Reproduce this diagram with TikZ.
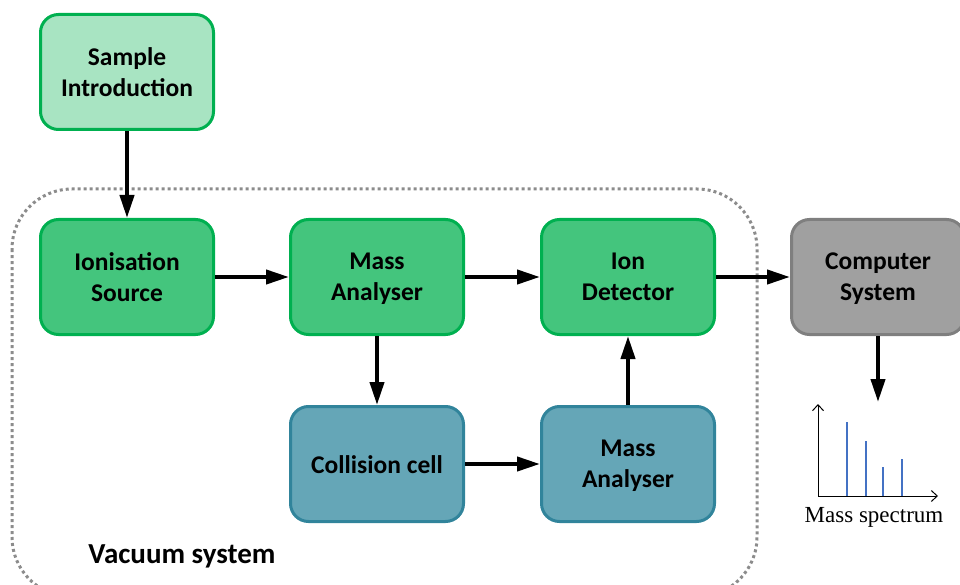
\documentclass[tikz,border=0pt]{standalone}
\usepackage{fontspec}
\setmainfont{Carlito}
\newfontfamily\serifspec{Liberation Serif}
\usetikzlibrary{arrows.meta}
\definecolor{gborder}{HTML}{00B050}
\definecolor{gfill}{HTML}{44C57D}
\definecolor{lgfill}{HTML}{A8E4C2}
\definecolor{tfill}{HTML}{65A6B7}
\definecolor{tborder}{HTML}{31849B}
\definecolor{cfill}{HTML}{A0A0A0}
\definecolor{cborder}{HTML}{7F7F7F}
\definecolor{specblue}{HTML}{4472C4}
\tikzset{
  box/.style={draw, line width=3pt, rounded corners=18pt, minimum width=173pt, minimum height=115pt,
    align=center, font=\fontsize{25.5}{31}\selectfont\bfseries, inner sep=0pt, text depth=-1pt},
  oneline/.style={text height=26pt, text depth=7pt},
  greenbox/.style={box, draw=gborder, fill=gfill},
  lightbox/.style={box, draw=gborder, fill=lgfill},
  tealbox/.style={box, draw=tborder, fill=tfill},
  greybox/.style={box, draw=cborder, fill=cfill},
  arr/.style={line width=4pt, -{Triangle[length=23pt,width=14pt]}},
  vac/.style={draw=cborder!90, line width=3pt, dash pattern=on 3pt off 3pt, rounded corners=60pt}
}
\begin{document}
\begin{tikzpicture}[x=1pt,y=-1pt]
\useasboundingbox (0,0) rectangle (960,585);
\draw[vac] (12,189) rectangle (757,597);
\node[lightbox] (sample) at (127,72) {Sample\\Introduction};
\node[greenbox] (ion) at (127,277) {Ionisation\\Source};
\node[greenbox] (ma1) at (377,277) {Mass\\Analyser};
\node[greenbox] (det) at (628,277) {Ion\\Detector};
\node[greybox] (comp) at (878,277) {Computer\\System};
\node[tealbox, oneline] (coll) at (377,464) {Collision cell};
\node[tealbox] (ma2) at (628,464) {Mass\\Analyser};
\node[font=\fontsize{29}{32}\selectfont\bfseries] (vlabel) at (182,556) {Vacuum system};
\draw[arr] (sample) -- (ion);
\draw[arr] (ion) -- (ma1);
\draw[arr] (ma1) -- (det);
\draw[arr] (det) -- (comp);
\draw[arr] (ma1) -- (coll);
\draw[arr] (coll) -- (ma2);
\draw[arr] (ma2) -- (det);
\coordinate (specin) at (878,402);
\draw[arr] (comp) -- (specin);
% spectrum
\coordinate (orig) at (818,496);
\coordinate (ytop) at (818,404);
\coordinate (xend) at (938,496);
\draw[line width=1pt, -{Straight Barb[length=6pt,width=11pt]}] (orig) -- (ytop);
\draw[line width=1pt, -{Straight Barb[length=6pt,width=11pt]}] (orig) -- (xend);
\foreach \px/\py in {847/422, 866/441, 883/467, 902/459}{
  \draw[specblue, line width=1.2pt] (\px,496) -- (\px,\py);
}
\node[font=\serifspec\fontsize{23}{26}\selectfont] (slabel) at (874,517) {Mass spectrum};
\end{tikzpicture}
\end{document}
